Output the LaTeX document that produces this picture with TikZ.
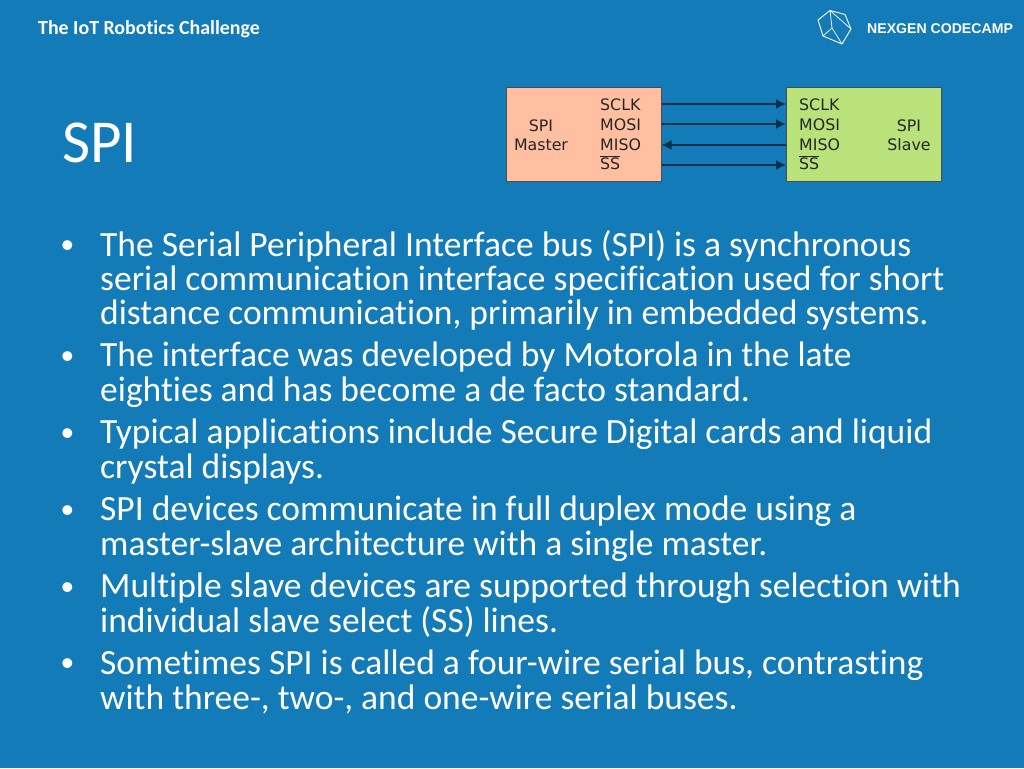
\documentclass[tikz,border=0pt]{standalone}
\usepackage{fontspec}
\setmainfont[RawFeature=-liga]{Carlito}
\newfontfamily\arialfont{Liberation Sans}
\newfontfamily\dejafont{DejaVu Sans}
\usetikzlibrary{arrows.meta}
\definecolor{slidebg}{HTML}{137BB8}
\definecolor{masterfill}{HTML}{FFBFA0}
\definecolor{slavefill}{HTML}{B9E27A}
\definecolor{wirecol}{HTML}{0C2F4C}
\tikzset{
  bodytext/.style={anchor=north west,inner sep=0pt,text=white,align=left,font=\fontsize{35.5}{34.4}\selectfont},
  bullet/.style={anchor=center,inner sep=0pt,text=white,font=\arialfont\fontsize{36}{36}\selectfont},
  spibox/.style={draw=black!70,line width=1pt,minimum width=155pt,minimum height=94pt,inner sep=0pt},
  pinlabel/.style={anchor=west,inner sep=0pt,text=black!85,font=\dejafont\fontsize{15.8}{15}\selectfont},
  devlabel/.style={anchor=center,inner sep=0pt,align=center,text=black!85,font=\dejafont\fontsize{15.8}{19}\selectfont},
  wire/.style={draw=wirecol,line width=1.8pt,-{Latex[length=10pt,width=10pt]}},
}
\begin{document}
\begin{tikzpicture}[x=1pt,y=-1pt]
	\fill[slidebg] (0,0) rectangle (1024,768);
	\useasboundingbox (0,0) rectangle (1024,768);
	% header
	\node[anchor=west,inner sep=0pt,text=white,font=\bfseries\fontsize{19.9}{22}\selectfont] (event) at (38,29) {The IoT Robotics Challenge};
	\node[anchor=west,inner sep=0pt,text=white,font=\arialfont\bfseries\fontsize{14.1}{16}\selectfont] (camp) at (867,28.5) {NEXGEN CODECAMP};
	% logo
	\draw[white,line width=0.9pt,line join=round] (830,10.5)--(845,14.5)--(851,29)--(842,44)--(823,36)--(818,20)--cycle;
	\draw[white,line width=0.7pt,line join=round] (830,10.5)--(832,28)--(842,44) (832,28)--(823,36) (830,10.5)--(851,29);
	% title
	\node[anchor=west,inner sep=0pt,text=white,font=\fontsize{61}{63}\selectfont] (title) at (62,143) {SPI};
	% spi diagram
	\node[spibox,fill=masterfill] (master) at (583.5,134) {};
	\node[spibox,fill=slavefill] (slave) at (864,134) {};
	\node[devlabel] (masterlabel) at (541,135) {SPI\\Master};
	\node[devlabel] (slavelabel) at (909,135) {SPI\\Slave};
	\foreach \n/\t/\y in {sclk/SCLK/105,mosi/MOSI/125,miso/MISO/144.5,ss/$\overline{\mbox{SS}}$/163}{
		\node[pinlabel] (m\n) at (600,\y) {\t};
		\node[pinlabel] (s\n) at (799,\y) {\t};
	}
	\draw[wire] (master.east |- 0,104) -- (slave.west |- 0,104);
	\draw[wire] (master.east |- 0,124) -- (slave.west |- 0,124);
	\draw[wire] (slave.west |- 0,145) -- (master.east |- 0,145);
	\draw[wire] (master.east |- 0,165) -- (slave.west |- 0,165);
	% bullets
	\foreach \y in {249,360,437,514,591,667}\node[bullet] at (67.5,\y) {•};
	\node[bodytext] (spibus) at (100,230) {The Serial Peripheral Interface bus (SPI) is a synchronous\\serial communication interface specification used for short\\distance communication, primarily in embedded systems.};
	\node[bodytext] (motorola) at (100,342) {The interface was developed by Motorola in the late\\eighties and has become a de facto standard.};
	\node[bodytext] (apps) at (100,419) {Typical applications include Secure Digital cards and liquid\\crystal displays.};
	\node[bodytext] (duplex) at (100,496) {SPI devices communicate in full duplex mode using a\\master-slave architecture with a single master.};
	\node[bodytext] (select) at (100,573) {Multiple slave devices are supported through selection with\\individual slave select (SS) lines.};
	\node[bodytext] (fourwire) at (100,650) {Sometimes SPI is called a four-wire serial bus, contrasting\\with three-, two-, and one-wire serial buses.};
\end{tikzpicture}
\end{document}
